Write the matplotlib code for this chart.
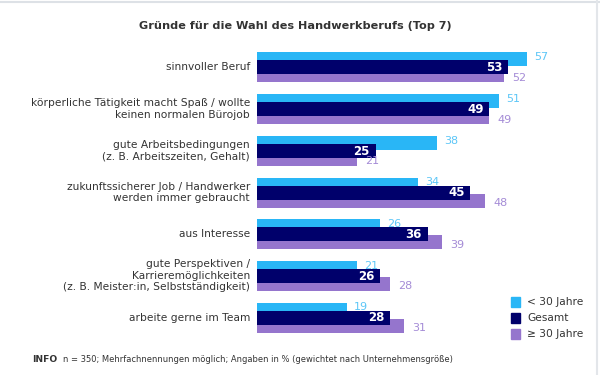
import numpy as np
import matplotlib.pyplot as plt
from matplotlib.patches import Rectangle
from matplotlib.lines import Line2D

# data
categories = [
    "sinnvoller Beruf",
    "körperliche Tätigkeit macht Spaß / wollte\nkeinen normalen Bürojob",
    "gute Arbeitsbedingungen\n(z. B. Arbeitszeiten, Gehalt)",
    "zukunftssicherer Job / Handwerker\nwerden immer gebraucht",
    "aus Interesse",
    "gute Perspektiven /\nKarrieremöglichkeiten\n(z. B. Meister:in, Selbstständigkeit)",
    "arbeite gerne im Team",
]
under30 = [57, 51, 38, 34, 26, 21, 19]
gesamt = [53, 49, 25, 45, 36, 26, 28]
over30 = [52, 49, 21, 48, 39, 28, 31]
series_names = ["< 30 Jahre", "Gesamt", "≥ 30 Jahre"]

c_light = "#29b6f6"
c_navy = "#00006b"
c_purple = "#9575cd"
c_light_txt = "#5cc6f7"
c_purple_txt = "#a48bd6"
c_text = "#333333"

W, H = 600, 375
fig = plt.figure(figsize=(6, 3.75), dpi=100)
plt.rcParams['font.family'] = ['DejaVu Sans']

# axes placed in pixel terms: x from 257 to 541.5, y from 46 to 340
ax = fig.add_axes([257 / W, 1 - 340 / H, 284.5 / W, 294 / H])
pos = np.arange(len(categories))
step = 41.67
ax.set_ylim((340 - 67.5) / step, (46 - 67.5) / step)
ax.set_xlim(0, 60)
ax.axis('off')

h = 14 / step
off = 8 / step
ax.barh(pos - off, under30, height=h, color=c_light, zorder=1)
ax.barh(pos + off, over30, height=h, color=c_purple, zorder=1)
ax.barh(pos, gesamt, height=h, color=c_navy, zorder=2)

for i in pos:
    ax.text(under30[i] + 1.5, i - off - 0.05, str(under30[i]), color=c_light_txt,
            fontsize=8, va='center', ha='left')
    ax.text(over30[i] + 1.8, i + off + 0.06, str(over30[i]), color=c_purple_txt,
            fontsize=8, va='center', ha='left')
    ax.text(gesamt[i] - 1.2, i + 0.01, str(gesamt[i]), color='white',
            fontsize=8.5, fontweight='bold', va='center', ha='right', zorder=3)
    ax.text(-1.5, i, categories[i], color=c_text, fontsize=7.7, va='center',
            ha='right', linespacing=1.2)

# title
fig.text(295 / W, 1 - 26 / H, "Gründe für die Wahl des Handwerkberufs (Top 7)",
         ha='center', va='center', fontsize=8.1, fontweight='bold', color=c_text)

# legend
for k, (name, col) in enumerate(zip(series_names, [c_light, c_navy, c_purple])):
    y = 302 + k * 16
    fig.add_artist(Rectangle((510.5 / W, 1 - (y + 5) / H), 9.5 / W, 10 / H,
                             transform=fig.transFigure, color=col))
    fig.text(527 / W, 1 - y / H, name, ha='left', va='center', fontsize=7.7,
             color=c_text)

# footer
fig.text(32 / W, 1 - 359 / H, "INFO", ha='left', va='center', fontsize=6.6,
         fontweight='bold', color=c_text)
fig.text(63 / W, 1 - 359 / H,
         "n = 350; Mehrfachnennungen möglich; Angaben in % (gewichtet nach Unternehmensgröße)",
         ha='left', va='center', fontsize=6.0, color=c_text)

# thin frame lines at the top and right edge
fig.add_artist(Line2D([0, 1], [1 - 1.5 / H, 1 - 1.5 / H], transform=fig.transFigure,
                      color='#dde1e6', lw=1.5))
fig.add_artist(Line2D([597 / W, 597 / W], [0, 1], transform=fig.transFigure,
                      color='#e3e6ea', lw=1.5))

fig.savefig("out.png", dpi=100)
